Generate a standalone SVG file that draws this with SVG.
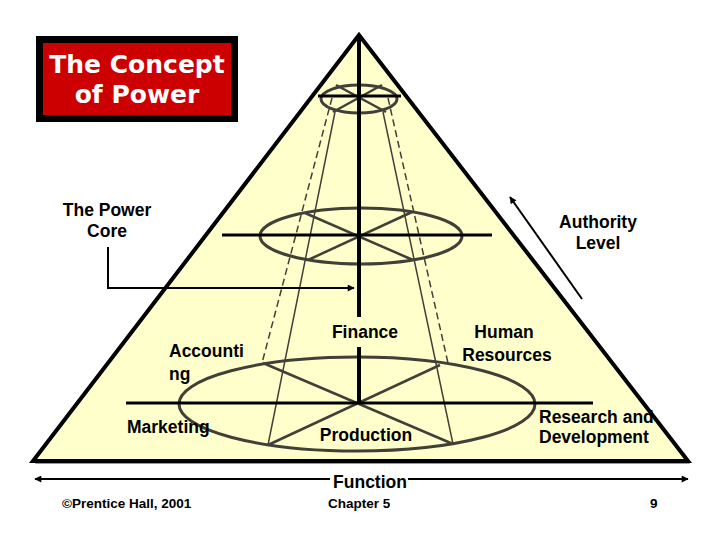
<svg xmlns="http://www.w3.org/2000/svg" width="720" height="540" viewBox="0 0 720 540">
<defs>
<marker id="ah" viewBox="0 0 10 10" refX="9" refY="5" markerWidth="8" markerHeight="7" markerUnits="userSpaceOnUse" orient="auto">
<path d="M0,0 L10,5 L0,10 z" fill="#000"/>
</marker>
<marker id="ahs" viewBox="0 0 10 10" refX="1" refY="5" markerWidth="8" markerHeight="7" markerUnits="userSpaceOnUse" orient="auto">
<path d="M10,0 L0,5 L10,10 z" fill="#000"/>
</marker>
</defs>
<style>
.lbl{font-family:"Liberation Sans",Arial,sans-serif;font-weight:bold;font-size:17.5px;fill:#000}
.foot{font-family:"Liberation Sans",Arial,sans-serif;font-weight:bold;font-size:13.5px;fill:#000}
.title{font-family:"DejaVu Sans",Verdana,sans-serif;font-weight:bold;font-size:25px;fill:#fff}
.ell{fill:none;stroke:#404038;stroke-width:3}
.spoke{stroke:#404038;stroke-width:2.5}
.cone{stroke:#404038;stroke-width:1.5;fill:none}
.dash{stroke-dasharray:7,4}
.bar{stroke:#000;stroke-width:3}
.conn{stroke:#000;stroke-width:2;fill:none}
</style>
<rect width="720" height="540" fill="#fff"/>

<g id="title">
<rect x="36" y="36" width="202" height="86" fill="#000"/>
<rect x="43" y="43" width="188" height="72" fill="#cc0000"/>
<text class="title" x="137" y="73" text-anchor="middle">The Concept</text>
<text class="title" x="137" y="103" text-anchor="middle">of Power</text>
</g>

<g id="pyramid">
<polygon points="359,38 35,464 690,464" fill="#9a9a9a"/>
<polygon points="359,35 33,461 688,461" fill="#ffffcc" stroke="#000" stroke-width="4" stroke-linejoin="miter"/>
</g>

<g id="cone">
<line class="cone dash" x1="332" y1="98" x2="262" y2="363"/>
<line class="cone" x1="335" y1="112" x2="268" y2="445"/>
<line class="cone" x1="383" y1="112" x2="453" y2="444"/>
<line class="cone dash" x1="388" y1="98" x2="448" y2="363"/>
</g>

<g id="level-top">
<ellipse class="ell" cx="359" cy="99" rx="38" ry="14"/>
<line class="spoke" x1="336" y1="85" x2="386" y2="112"/>
<line class="spoke" x1="382" y1="85" x2="333" y2="112"/>
<line class="bar" x1="318" y1="96" x2="401" y2="96"/>
</g>

<g id="level-middle">
<ellipse class="ell" cx="361" cy="236" rx="101" ry="28"/>
<line class="spoke" x1="305" y1="213" x2="413" y2="260"/>
<line class="spoke" x1="412" y1="212" x2="308" y2="260"/>
<line class="bar" x1="222" y1="235" x2="492" y2="235"/>
</g>

<g id="level-bottom">
<ellipse class="ell" cx="357" cy="404" rx="178" ry="47"/>
<line class="spoke" x1="263" y1="363" x2="453" y2="444"/>
<line class="spoke" x1="440" y1="365" x2="268" y2="445"/>
<line class="bar" x1="126" y1="403" x2="593" y2="403"/>
</g>

<g id="axis">
<line x1="359" y1="35" x2="359" y2="317" stroke="#000" stroke-width="4"/>
<line x1="359" y1="347" x2="359" y2="404" stroke="#000" stroke-width="4"/>
</g>

<g id="connectors">
<polyline class="conn" points="108,247 108,288 354,288" marker-end="url(#ah)"/>
<line class="conn" x1="582" y1="299" x2="510" y2="197" marker-end="url(#ah)"/>
<line class="conn" x1="35" y1="479" x2="330" y2="479" marker-start="url(#ahs)"/>
<line class="conn" x1="408" y1="479" x2="688" y2="479" marker-end="url(#ah)"/>
</g>

<g id="labels">
<text class="lbl" x="107" y="216" text-anchor="middle">The Power</text>
<text class="lbl" x="107" y="237" text-anchor="middle">Core</text>
<text class="lbl" x="598" y="228" text-anchor="middle">Authority</text>
<text class="lbl" x="598" y="249" text-anchor="middle">Level</text>
<text class="lbl" x="169" y="357">Accounti</text>
<text class="lbl" x="169" y="380">ng</text>
<text class="lbl" x="365" y="338" text-anchor="middle">Finance</text>
<text class="lbl" x="504" y="338" text-anchor="middle">Human</text>
<text class="lbl" x="507" y="361" text-anchor="middle">Resources</text>
<text class="lbl" x="127" y="433">Marketing</text>
<text class="lbl" x="366" y="441" text-anchor="middle">Production</text>
<text class="lbl" x="539" y="423">Research and</text>
<text class="lbl" x="539" y="443">Development</text>
<text class="lbl" x="370" y="488" text-anchor="middle">Function</text>
</g>

<g id="footer">
<text class="foot" x="62" y="508">©Prentice Hall, 2001</text>
<text class="foot" x="328" y="508">Chapter 5</text>
<text class="foot" x="650" y="508">9</text>
</g>
</svg>
